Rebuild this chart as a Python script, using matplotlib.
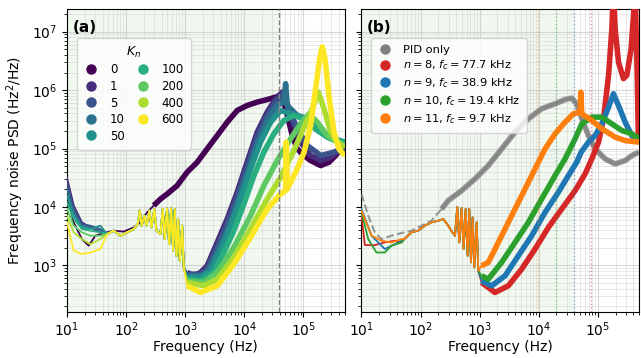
import numpy as np
import matplotlib.pyplot as plt
from matplotlib.lines import Line2D

# ---------------- panel (a): sweep of K_n ----------------
k_labels = ['0', '1', '5', '10', '50', '100', '200', '400', '600']

f_k0 = [10, 13, 17.9, 23.3, 30.2, 41.8, 61.8, 91.2, 135, 175, 227, 294, 382, 495, 731,
        1.08e3, 1.6e3, 2.36e3, 3.49e3, 5.15e3, 7.61e3, 1.12e4, 1.66e4, 2.45e4, 3.4e4, 4.4e4,
        5.36e4, 6.51e4, 7.91e4, 1.03e5, 1.33e5, 1.97e5, 2.72e5, 3.53e5, 4.3e5, 5e5]
psd_k0 = [1.57e4, 5.47e3, 2.83e3, 2.18e3, 3.23e3, 3.59e3, 3.94e3, 3.8e3, 4.49e3, 5.47e3, 8.11e3,
          1.06e4, 1.37e4, 1.67e4, 2.32e4, 3.94e4, 5.84e4, 9.89e4, 1.67e5, 2.83e5, 4.49e5, 5.47e5,
          6.24e5, 6.9e5, 7.6e5, 7.9e5, 3.69e5, 1.67e5, 9.89e4, 7.6e4, 6.24e4, 5.12e4, 5.84e4,
          7.6e4, 9.89e4, 8.67e4]

# resonance comb shared by all K_n > 0 traces
f_comb_a = [47.7, 61.8, 80.2, 104, 135, 158, 171, 184, 205, 221, 249, 269, 302, 327, 382, 418,
            452, 495, 536, 579, 626, 668, 713, 761, 812, 890, 949]
psd_comb_a = [3.45e3, 3.94e3, 3.23e3, 3.69e3, 4.21e3, 5.12e3, 8.7e3, 4.8e3, 7.11e3, 4.8e3, 8.7e3,
              4.49e3, 9.25e3, 3.94e3, 3.45e3, 9.25e3, 2.83e3, 9.5e3, 2.32e3, 9.5e3, 1.79e3,
              9.25e3, 1.47e3, 6.24e3, 1.2e3, 4.8e3, 926]

f_k1 = [10, 13, 17.9, 24.8, 36.7, 1.08e3, 1.4e3, 1.82e3, 2.36e3, 3.49e3, 5.15e3, 7.61e3, 1.12e4,
        1.66e4, 2.45e4, 3.4e4, 4.4e4, 5.36e4, 6.95e4, 9.01e4, 1.33e5, 1.97e5, 2.91e5, 4.03e5, 5e5]
psd_k1 = [3.2e4, 1.06e4, 5.47e3, 4.49e3, 3.69e3, 760, 666, 760, 989, 2.48e3, 6.24e3, 1.79e4,
          5.84e4, 1.91e5, 4.21e5, 7.11e5, 9.25e5, 5.47e5, 2.48e5, 1.29e5, 7.6e4, 6.24e4, 7.11e4,
          9.26e4, 9.89e4]

f_k5 = [10, 13, 17.9, 24.8, 36.7, 1.08e3, 1.82e3, 2.36e3, 3.49e3, 5.15e3, 7.61e3, 1.12e4, 1.66e4,
        2.45e4, 3.4e4, 4.7e4, 5.71e4, 7.91e4, 1.17e5, 1.97e5, 3.31e5, 5e5]
psd_k5 = [2.65e4, 9.25e3, 5.12e3, 4.8e3, 4.21e3, 711, 711, 867, 2.04e3, 5.12e3, 1.47e4, 4.8e4,
          1.57e5, 3.69e5, 6.24e5, 8.66e5, 4.8e5, 2.18e5, 1.13e5, 7.6e4, 8.67e4, 1.06e5]

f_k10 = [10, 13, 17.9, 24.8, 36.7, 1.08e3, 1.82e3, 2.36e3, 3.49e3, 5.15e3, 7.61e3, 1.12e4, 1.66e4,
         2.45e4, 3.62e4, 4.7e4, 5.02e4, 5.36e4, 7.91e4, 1.17e5, 1.97e5, 3.31e5, 5e5]
psd_k10 = [2.04e4, 8.11e3, 4.8e3, 4.49e3, 3.94e3, 666, 666, 760, 1.67e3, 3.94e3, 1.13e4, 3.69e4,
           1.2e5, 3.03e5, 5.47e5, 6.24e5, 1.29e6, 5.47e5, 3.69e5, 3.23e5, 1.91e5, 1.47e5, 1.29e5]

f_k50 = [10, 13, 17.9, 24.8, 36.7, 1.08e3, 1.82e3, 2.69e3, 3.97e3, 5.87e3, 8.66e3, 1.28e4, 1.89e4,
         2.79e4, 4.13e4, 6.1e4, 9.01e4, 1.52e5, 2.55e5, 5e5]
psd_k50 = [1.57e4, 7.11e3, 4.49e3, 4.21e3, 4.8e3, 624, 624, 811, 1.79e3, 4.49e3, 1.37e4, 4.49e4,
           1.29e5, 2.83e5, 4.49e5, 3.94e5, 3.45e5, 2.32e5, 1.57e5, 1.29e5]

f_k100 = [10, 13, 17.9, 24.8, 36.7, 1.08e3, 1.82e3, 3.06e3, 4.52e3, 6.68e3, 9.87e3, 1.46e4, 2.15e4,
          3.18e4, 4.7e4, 6.95e4, 1.03e5, 1.73e5, 2.91e5, 5e5]
psd_k100 = [1.2e4, 6.24e3, 4.21e3, 3.94e3, 3.69e3, 584, 547, 760, 1.67e3, 3.94e3, 1.13e4, 3.45e4,
            8.67e4, 1.79e5, 3.03e5, 3.69e5, 3.23e5, 2.04e5, 1.47e5, 1.29e5]

f_k200 = [10, 13, 17.9, 24.8, 36.7, 1.08e3, 2.07e3, 3.49e3, 6.68e3, 1.28e4, 2.15e4, 3.62e4, 6.1e4,
          9.01e4, 1.25e5, 1.73e5, 2.55e5, 3.77e5, 5e5]
psd_k200 = [9.25e3, 4.8e3, 3.69e3, 3.23e3, 3.23e3, 547, 512, 760, 2.04e3, 7.11e3, 2.32e4, 6.24e4,
            1.47e5, 2.65e5, 3.94e5, 2.83e5, 1.67e5, 1.29e5, 1.13e5]

f_k400 = [10, 13, 17.9, 24.8, 36.7, 1.08e3, 2.07e3, 3.49e3, 6.68e3, 1.28e4, 2.45e4, 4.13e4, 6.95e4,
          1.03e5, 1.42e5, 1.8e5, 2.24e5, 2.91e5, 3.77e5, 5e5]
psd_k400 = [7.11e3, 3.69e3, 2.83e3, 2.32e3, 2.83e3, 512, 449, 584, 1.37e3, 4.21e3, 1.37e4, 3.23e4,
            9.26e4, 2.32e5, 4.8e5, 9.25e5, 4.8e5, 1.91e5, 1.29e5, 1.06e5]

f_k600 = [10, 13, 17.9, 24.8, 36.7, 1.08e3, 1.82e3, 3.49e3, 6.68e3, 1.28e4, 2.45e4, 4.13e4, 5.02e4,
          5.15e4, 5.36e4, 7.91e4, 1.03e5, 1.33e5, 1.62e5, 1.89e5, 2.1e5, 2.33e5, 2.72e5, 3.31e5,
          4.03e5, 5e5]
psd_k600 = [5.47e3, 1.79e3, 1.57e3, 1.67e3, 1.91e3, 449, 345, 449, 1.06e3, 3.03e3, 9.25e3, 1.67e4,
            1.91e4, 1.29e5, 2.04e4, 4.49e4, 8.67e4, 2.48e5, 1.06e6, 3.45e6, 5.5e6, 3.45e6, 8.11e5,
            1.91e5, 9.89e4, 7.6e4]

# ---------------- panel (b): notch order n ----------------
f_pid = [10, 13, 16.8, 21.8, 32.2, 47.7, 70, 104, 153, 227, 294, 495, 834, 1.4e3, 2.36e3, 3.97e3,
         6.68e3, 1.12e4, 1.89e4, 2.79e4, 3.62e4, 4.4e4, 5.36e4, 6.95e4, 9.01e4, 1.33e5, 1.97e5,
         2.91e5, 3.77e5, 5e5]
psd_pid = [1.67e4, 7.11e3, 3.69e3, 2.83e3, 3.23e3, 3.59e3, 3.94e3, 4.8e3, 5.84e3, 9.25e3, 1.29e4,
           1.91e4, 3.03e4, 5.12e4, 9.89e4, 1.91e5, 3.23e5, 4.8e5, 5.84e5, 6.9e5, 7.3e5, 5.84e5,
           3.23e5, 1.67e5, 9.89e4, 6.66e4, 5.47e4, 6.24e4, 7.6e4, 8.67e4]

f_comb_b = [53, 70, 91, 118, 153, 200, 243, 294, 345, 382, 418, 452, 495, 536, 579, 626, 668, 713,
            761, 812, 890, 949]
psd_comb_b = [2.83e3, 3.69e3, 3.94e3, 4.8e3, 5.47e3, 5.84e3, 6.24e3, 4.8e3, 3.69e3, 3.23e3, 1.0e4,
              2.48e3, 9.6e3, 1.91e3, 9.25e3, 1.47e3, 9.25e3, 1.13e3, 6.6e3, 926, 5.47e3, 811]

n_labels = ['$n = 8$, $f_c = 77.7$ kHz', '$n = 9$, $f_c = 38.9$ kHz',
            '$n = 10$, $f_c = 19.4$ kHz', '$n = 11$, $f_c = 9.7$ kHz']
f_cut = [77.7e3, 38.9e3, 19.4e3, 9.7e3]

f_n8 = [10, 11.4, 16.8, 24.8, 36.7, 47.7, 1.08e3, 1.82e3, 3.06e3, 5.15e3, 8.66e3, 1.46e4, 2.45e4,
        4.13e4, 6.1e4, 7.91e4, 1.03e5, 1.25e5, 1.52e5, 1.73e5, 1.84e5, 1.97e5, 2.24e5, 2.72e5,
        3.1e5, 3.67e5, 4.3e5, 4.65e5, 4.85e5, 5e5]
psd_n8 = [7.11e3, 2.23e3, 2.23e3, 2.48e3, 2.65e3, 2.48e3, 512, 345, 449, 867, 1.91e3, 4.49e3,
          9.25e3, 1.91e4, 3.69e4, 6.66e4, 1.29e5, 3.23e5, 1.79e6, 1.1e7, 5e7, 1.1e7, 3.03e6,
          1.57e6, 1.79e6, 5.12e6, 5e7, 1.79e6, 1.67e5, 1.47e5]

f_n9 = [10, 14.8, 24.8, 36.7, 47.7, 1.08e3, 1.6e3, 2.69e3, 4.52e3, 7.61e3, 1.28e4, 2.15e4, 3.18e4,
        4.4e4, 5.22e4, 6.95e4, 9.01e4, 1.17e5, 1.52e5, 1.84e5, 2.24e5, 2.91e5, 3.77e5, 5e5]
psd_n9 = [9.25e3, 3.23e3, 1.91e3, 2.32e3, 2.65e3, 547, 449, 666, 1.47e3, 3.23e3, 8.11e3, 1.79e4,
          3.45e4, 5.84e4, 8.67e4, 1.29e5, 1.67e5, 2.65e5, 5.1e5, 8.66e5, 5.47e5, 2.83e5, 1.67e5,
          1.29e5]

f_n10 = [10, 13, 17.9, 24.8, 32.2, 47.7, 1.08e3, 1.4e3, 2.36e3, 3.97e3, 6.68e3, 1.12e4, 1.89e4,
         2.79e4, 4.13e4, 5.36e4, 7.91e4, 1.17e5, 1.73e5, 2.55e5, 3.77e5, 5e5]
psd_n10 = [8.11e3, 2.83e3, 1.67e3, 1.67e3, 2.18e3, 2.48e3, 666, 584, 1.13e3, 2.48e3, 5.47e3,
           1.37e4, 3.45e4, 6.66e4, 1.47e5, 2.65e5, 3.45e5, 3.45e5, 2.65e5, 2.04e5, 1.79e5, 1.47e5]

f_n11 = [10, 14.8, 21.8, 32.2, 47.7, 1.08e3, 1.4e3, 1.82e3, 2.69e3, 3.97e3, 5.87e3, 8.66e3, 1.28e4,
         1.89e4, 2.79e4, 3.87e4, 5.02e4, 5.15e4, 5.36e4, 7.91e4, 1.17e5, 1.97e5, 2.91e5, 5e5]
psd_n11 = [8.7e3, 3.23e3, 2.65e3, 2.48e3, 2.83e3, 989, 1.13e3, 1.91e3, 4.21e3, 9.25e3, 2.04e4,
           4.49e4, 9.89e4, 1.79e5, 2.83e5, 3.94e5, 4.21e5, 9.25e5, 3.94e5, 3.03e5, 2.18e5, 1.57e5,
           1.37e5, 1.29e5]


def with_comb(f, p, fc, pc):
    f = np.concatenate([f, fc])
    p = np.concatenate([p, pc])
    i = np.argsort(f)
    return f[i], p[i]


def trace(ax, f, p, color, f_thick, lw_thick=4.0, alpha=1.0):
    f = np.asarray(f, float)
    p = np.asarray(p, float)
    ax.plot(f, p, color=color, lw=1.3, zorder=3, alpha=alpha)
    m = f >= f_thick
    ax.plot(f[m], p[m], color=color, lw=lw_thick, zorder=3, alpha=alpha,
            solid_joinstyle='round', solid_capstyle='butt')


plt.rcParams['font.size'] = 10
fig, (ax1, ax2) = plt.subplots(1, 2, figsize=(6.41, 3.58), dpi=100, sharey=True)
fig.subplots_adjust(left=0.1045, right=0.997, bottom=0.1285, top=0.975, wspace=0.061)

colors_a = plt.cm.viridis(np.linspace(0, 1, 9))

# panel (a)
trace(ax1, f_k0, psd_k0, colors_a[0], 250)
k_curves = [(f_k1, psd_k1), (f_k5, psd_k5), (f_k10, psd_k10), (f_k50, psd_k50),
            (f_k100, psd_k100), (f_k200, psd_k200), (f_k400, psd_k400), (f_k600, psd_k600)]
for c, (f, p) in zip(colors_a[1:], k_curves):
    ff, pp = with_comb(f, p, f_comb_a, psd_comb_a)
    trace(ax1, ff, pp, c, 1000)
ax1.axvline(38.9e3, color='gray', ls='--', lw=1, zorder=4)

# panel (b)
fp = np.asarray(f_pid)
pp = np.asarray(psd_pid)
ax2.plot(fp[fp <= 227], pp[fp <= 227], color='gray', ls='--', lw=1.5, alpha=0.8, zorder=3)
trace(ax2, fp[fp >= 227], pp[fp >= 227], 'gray', 227, alpha=0.85)
colors_b = ['tab:red', 'tab:blue', 'tab:green', 'tab:orange']
n_curves = [(f_n8, psd_n8), (f_n9, psd_n9), (f_n10, psd_n10), (f_n11, psd_n11)]
for c, (f, p) in zip(colors_b, n_curves):
    ff, pq = with_comb(f, p, f_comb_b, psd_comb_b)
    trace(ax2, ff, pq, c, 1000)
for c, fc in zip(colors_b, f_cut):
    ax2.axvline(fc, color=c, ls=':', lw=1, alpha=0.5, zorder=4)

for ax, lab in [(ax1, '(a)'), (ax2, '(b)')]:
    ax.set_xscale('log')
    ax.set_yscale('log')
    ax.set_xlim(10, 5e5)
    ax.set_ylim(160, 2.45e7)
    ax.axvspan(10, 38.9e3, color='tab:green', alpha=0.07, lw=0, zorder=0)
    ax.grid(which='major', color='0.75', lw=0.8, alpha=0.6, zorder=1)
    ax.grid(which='minor', color='0.8', lw=0.6, alpha=0.5, zorder=1)
    ax.set_xlabel('Frequency (Hz)', labelpad=1)
    ax.tick_params(axis='x', which='major', pad=2.5)
    ax.text(0.02, 0.965, lab, transform=ax.transAxes, fontsize=11, fontweight='bold',
            va='top', ha='left')

ax1.set_ylabel('Frequency noise PSD (Hz$^2$/Hz)')

h_a = [Line2D([], [], ls='none', marker='o', ms=6.5, color=c) for c in colors_a]
ax1.legend(h_a, k_labels, title='$K_n$', ncol=2, loc='upper left', fontsize=8.5,
           title_fontsize=9, bbox_to_anchor=(0.036, 0.905), borderaxespad=0,
           handlelength=1.2, columnspacing=0.9, handletextpad=1.0, borderpad=0.6,
           labelspacing=0.3)

h_b = [Line2D([], [], ls='none', marker='o', ms=6.5, color='gray')]
h_b += [Line2D([], [], ls='none', marker='o', ms=6.5, color=c) for c in colors_b]
ax2.legend(h_b, ['PID only'] + n_labels, loc='upper left', bbox_to_anchor=(0.036, 0.905),
           borderaxespad=0, fontsize=8.2, handlelength=1.2, handletextpad=1.0, borderpad=0.6,
           labelspacing=0.35)

fig.savefig('out.png', dpi=100)
